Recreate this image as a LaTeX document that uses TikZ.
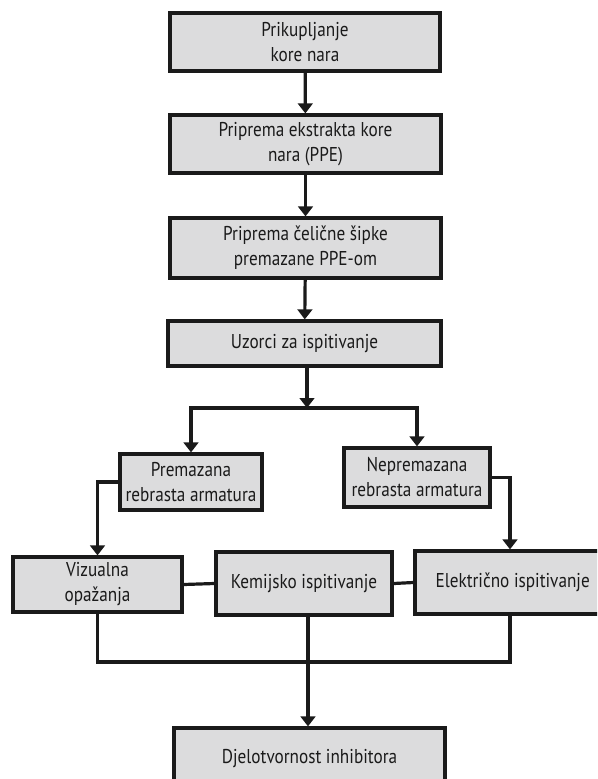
\documentclass[tikz,border=0pt]{standalone}
\usepackage{fontspec}
\setmainfont[FakeStretch=0.86]{PT Sans}
\usetikzlibrary{arrows.meta,calc}
\definecolor{boxfill}{HTML}{DCDCDD}
\definecolor{ink}{HTML}{1A1A1A}
\tikzset{
  flowbox/.style={draw=ink, fill=boxfill, line width=2.4pt, inner sep=0pt, align=center,
    text=ink, font=\fontsize{15}{18.75}\selectfont},
  conn/.style={draw=ink, line width=2.4pt},
  arr/.style={conn, -{Triangle[length=7.5pt,width=11pt]}}
}
\begin{document}
\begin{tikzpicture}[x=0.75pt,y=-0.75pt]
\useasboundingbox (0,0) rectangle (597,779);
\begin{scope}
\clip (0,0) rectangle (597,779);
\node[flowbox, minimum width=270*0.75pt, minimum height=58*0.75pt] (b1) at (305,42) {Prikupljanje\\kore nara};
\node[flowbox, minimum width=271*0.75pt, minimum height=58*0.75pt] (b2) at (305.5,144) {Priprema ekstrakta kore\\nara (PPE)};
\node[flowbox, minimum width=271*0.75pt, minimum height=60*0.75pt] (b3) at (305.5,248) {Priprema čelične šipke\\premazane PPE-om};
\node[flowbox, minimum width=273*0.75pt, minimum height=45*0.75pt] (b4) at (304.5,343.5) {Uzorci za ispitivanje};
\node[flowbox, minimum width=142*0.75pt, minimum height=56*0.75pt] (prem) at (191,482) {Premazana\\rebrasta armatura};
\node[flowbox, minimum width=146*0.75pt, minimum height=59*0.75pt] (nep) at (417,477.5) {Nepremazana\\rebrasta armatura};
\node[flowbox, minimum width=169*0.75pt, minimum height=55*0.75pt] (viz) at (97.5,584.5) {Vizualna\\opažanja};
\node[flowbox, minimum width=176*0.75pt, minimum height=63*0.75pt] (kem) at (304,583.5) {Kemijsko ispitivanje};
\node[flowbox, minimum width=190*0.75pt, minimum height=63*0.75pt] (el) at (510,582.5) {\hspace*{4pt}Električno ispitivanje};
\node[flowbox, minimum width=271*0.75pt, minimum height=62*0.75pt] (dj) at (309.5,759) {Djelotvornost inhibitora};
\coordinate (split) at (307,408);
\coordinate (low) at (0,662);
\draw[arr] (b1) -- (b2);
\draw[arr] (b2) -- (b3);
\draw[arr] (b3) -- (b4);
\draw[arr] (b4.south -| split) -- (split);
\draw[arr] (split) -| (prem.north);
\draw[arr] (split) -| (nep.north);
\draw[arr] (prem.west) -| (viz.north);
\draw[arr] (nep.east) -| (el.north);
\draw[conn] (viz.east) -- (kem.west);
\draw[conn] (kem.east) -- (el.west);
\draw[conn, line join=miter] (viz.south) -- (viz.south |- low) -- (el.south |- low) -- (el.south);
\draw[arr] (kem.south -| 308,0) -- (dj.north -| 308,0);
\end{scope}
\end{tikzpicture}
\end{document}
